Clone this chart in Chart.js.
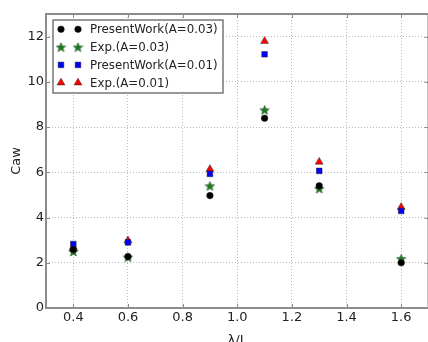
<!DOCTYPE html>
<html>
<head>
<meta charset="utf-8">
<script src="https://cdn.jsdelivr.net/npm/chart.js@4/dist/chart.umd.min.js"></script>
<style>
  html, body { margin: 0; padding: 0; background: #fff; overflow: hidden; }
  #wrap { width: 434px; height: 342px; }
</style>
</head>
<body>
<div id="wrap"><canvas id="caw-chart"></canvas></div>
<script>
// data
const waveRatio = [0.4, 0.6, 0.9, 1.1, 1.3, 1.6];
const presentA003 = [2.58, 2.27, 4.97, 8.39, 5.40, 2.00];
const expA003 = [2.50, 2.25, 5.40, 8.76, 5.28, 2.18];
const presentA001 = [2.83, 2.90, 5.93, 11.22, 6.06, 4.29];
const expA001 = [2.70, 2.98, 6.14, 11.80, 6.46, 4.46];
const xTicks = [0.4, 0.6, 0.8, 1.0, 1.2, 1.4, 1.6];
const yTicks = [0, 2, 4, 6, 8, 10, 12];

function toPoints(ys) {
  return waveRatio.map((x, i) => ({ x: x, y: ys[i] }));
}

// filled star like matplotlib '*'
function makeStar(size, fill) {
  const c = document.createElement('canvas');
  c.width = size; c.height = size;
  const g = c.getContext('2d');
  const cx = size / 2, cy = size / 2 + 0.5, R = size / 2 - 0.5, r = R * 0.42;
  g.beginPath();
  for (let i = 0; i < 10; i++) {
    const a = -Math.PI / 2 + i * Math.PI / 5;
    const rad = i % 2 === 0 ? R : r;
    g.lineTo(cx + rad * Math.cos(a), cy + rad * Math.sin(a));
  }
  g.closePath();
  g.fillStyle = fill;
  g.fill();
  g.lineWidth = 0.5;
  g.strokeStyle = '#0b3d0b';
  g.stroke();
  return c;
}
const starImg = makeStar(11, '#1f7a1f');

const series = [
  { label: 'PresentWork(A=0.03)', data: presentA003, style: 'circle', color: '#000000', radius: 3.3 },
  { label: 'Exp.(A=0.03)', data: expA003, style: starImg, color: '#1f7a1f', radius: 5 },
  { label: 'PresentWork(A=0.01)', data: presentA001, style: 'rect', color: '#0000ff', radius: 4 },
  { label: 'Exp.(A=0.01)', data: expA001, style: 'triangle', color: '#ff0000', radius: 4.5 }
];

// frame, inward ticks and a matplotlib-like legend with two markers per row
const framePlugin = {
  id: 'frame',
  afterDatasetsDraw(chart) {
    const { ctx, chartArea: a, scales } = chart;
    ctx.save();
    ctx.strokeStyle = '#8c8c8c';
    ctx.lineWidth = 1;
    ctx.beginPath();
    xTicks.forEach(v => {
      const px = Math.round(scales.x.getPixelForValue(v)) + 0.5;
      ctx.moveTo(px, a.bottom); ctx.lineTo(px, a.bottom - 4);
      ctx.moveTo(px, a.top); ctx.lineTo(px, a.top + 4);
    });
    yTicks.forEach(v => {
      const py = Math.round(scales.y.getPixelForValue(v)) + 0.5;
      ctx.moveTo(a.left, py); ctx.lineTo(a.left + 4, py);
      ctx.moveTo(a.right, py); ctx.lineTo(a.right - 4, py);
    });
    ctx.stroke();
    ctx.lineWidth = 2;
    ctx.strokeRect(a.left, a.top, a.right - a.left, a.bottom - a.top);

    // legend box
    const bx = 53, by = 20, bw = 170, bh = 73;
    ctx.fillStyle = '#ffffff';
    ctx.fillRect(bx, by, bw, bh);
    ctx.strokeStyle = '#555555';
    ctx.lineWidth = 1.2;
    ctx.strokeRect(bx, by, bw, bh);
    ctx.font = '11.8px "DejaVu Sans"';
    ctx.textBaseline = 'middle';
    series.forEach((s, i) => {
      const y = 29.3 + i * 17.8;
      [61, 78].forEach(x => {
        ctx.fillStyle = s.color;
        ctx.strokeStyle = '#222';
        ctx.lineWidth = 0.5;
        Chart.helpers.drawPoint(ctx, {
          pointStyle: s.style, radius: s.radius, rotation: 0, borderWidth: 0.5
        }, x, y);
      });
      ctx.fillStyle = '#222';
      ctx.fillText(s.label, 90, y + 1);
    });
    ctx.restore();
  }
};

const gridOpts = { color: '#bbbbbb', lineWidth: 1, drawTicks: false };
const tickFont = { family: 'DejaVu Sans', size: 13 };

new Chart(document.getElementById('caw-chart'), {
  type: 'scatter',
  data: {
    datasets: series.map(s => ({
      label: s.label,
      data: toPoints(s.data),
      pointStyle: s.style,
      pointRadius: s.radius,
      pointHoverRadius: s.radius,
      backgroundColor: s.color,
      borderColor: '#222',
      borderWidth: 0.5
    }))
  },
  options: {
    responsive: true,
    maintainAspectRatio: false,
    animation: false,
    layout: { padding: { top: 14, right: 4, bottom: 0, left: 0 } },
    plugins: {
      legend: { display: false },
      tooltip: { enabled: false }
    },
    scales: {
      x: {
        type: 'linear',
        min: 0.3,
        max: 1.7,
        afterBuildTicks: s => { s.ticks = xTicks.map(v => ({ value: v })); },
        afterFit: s => { s.height = 34; },
        border: { display: false, dash: [1, 2] },
        grid: gridOpts,
        ticks: {
          padding: 2,
          color: '#222',
          font: tickFont,
          callback: v => v.toFixed(1)
        },
        title: {
          display: true,
          text: 'λ/L',
          color: '#222',
          padding: { top: 0, bottom: -6 },
          font: tickFont
        }
      },
      y: {
        min: 0,
        max: 13,
        afterBuildTicks: s => { s.ticks = yTicks.map(v => ({ value: v })); },
        afterFit: s => { s.width = 46; },
        border: { display: false, dash: [1, 2] },
        grid: gridOpts,
        ticks: {
          padding: 2,
          color: '#222',
          font: tickFont
        },
        title: {
          display: true,
          text: 'Caw',
          color: '#222',
          padding: { top: 9, bottom: 0 },
          font: tickFont
        }
      }
    }
  },
  plugins: [framePlugin]
});
</script>
</body>
</html>
